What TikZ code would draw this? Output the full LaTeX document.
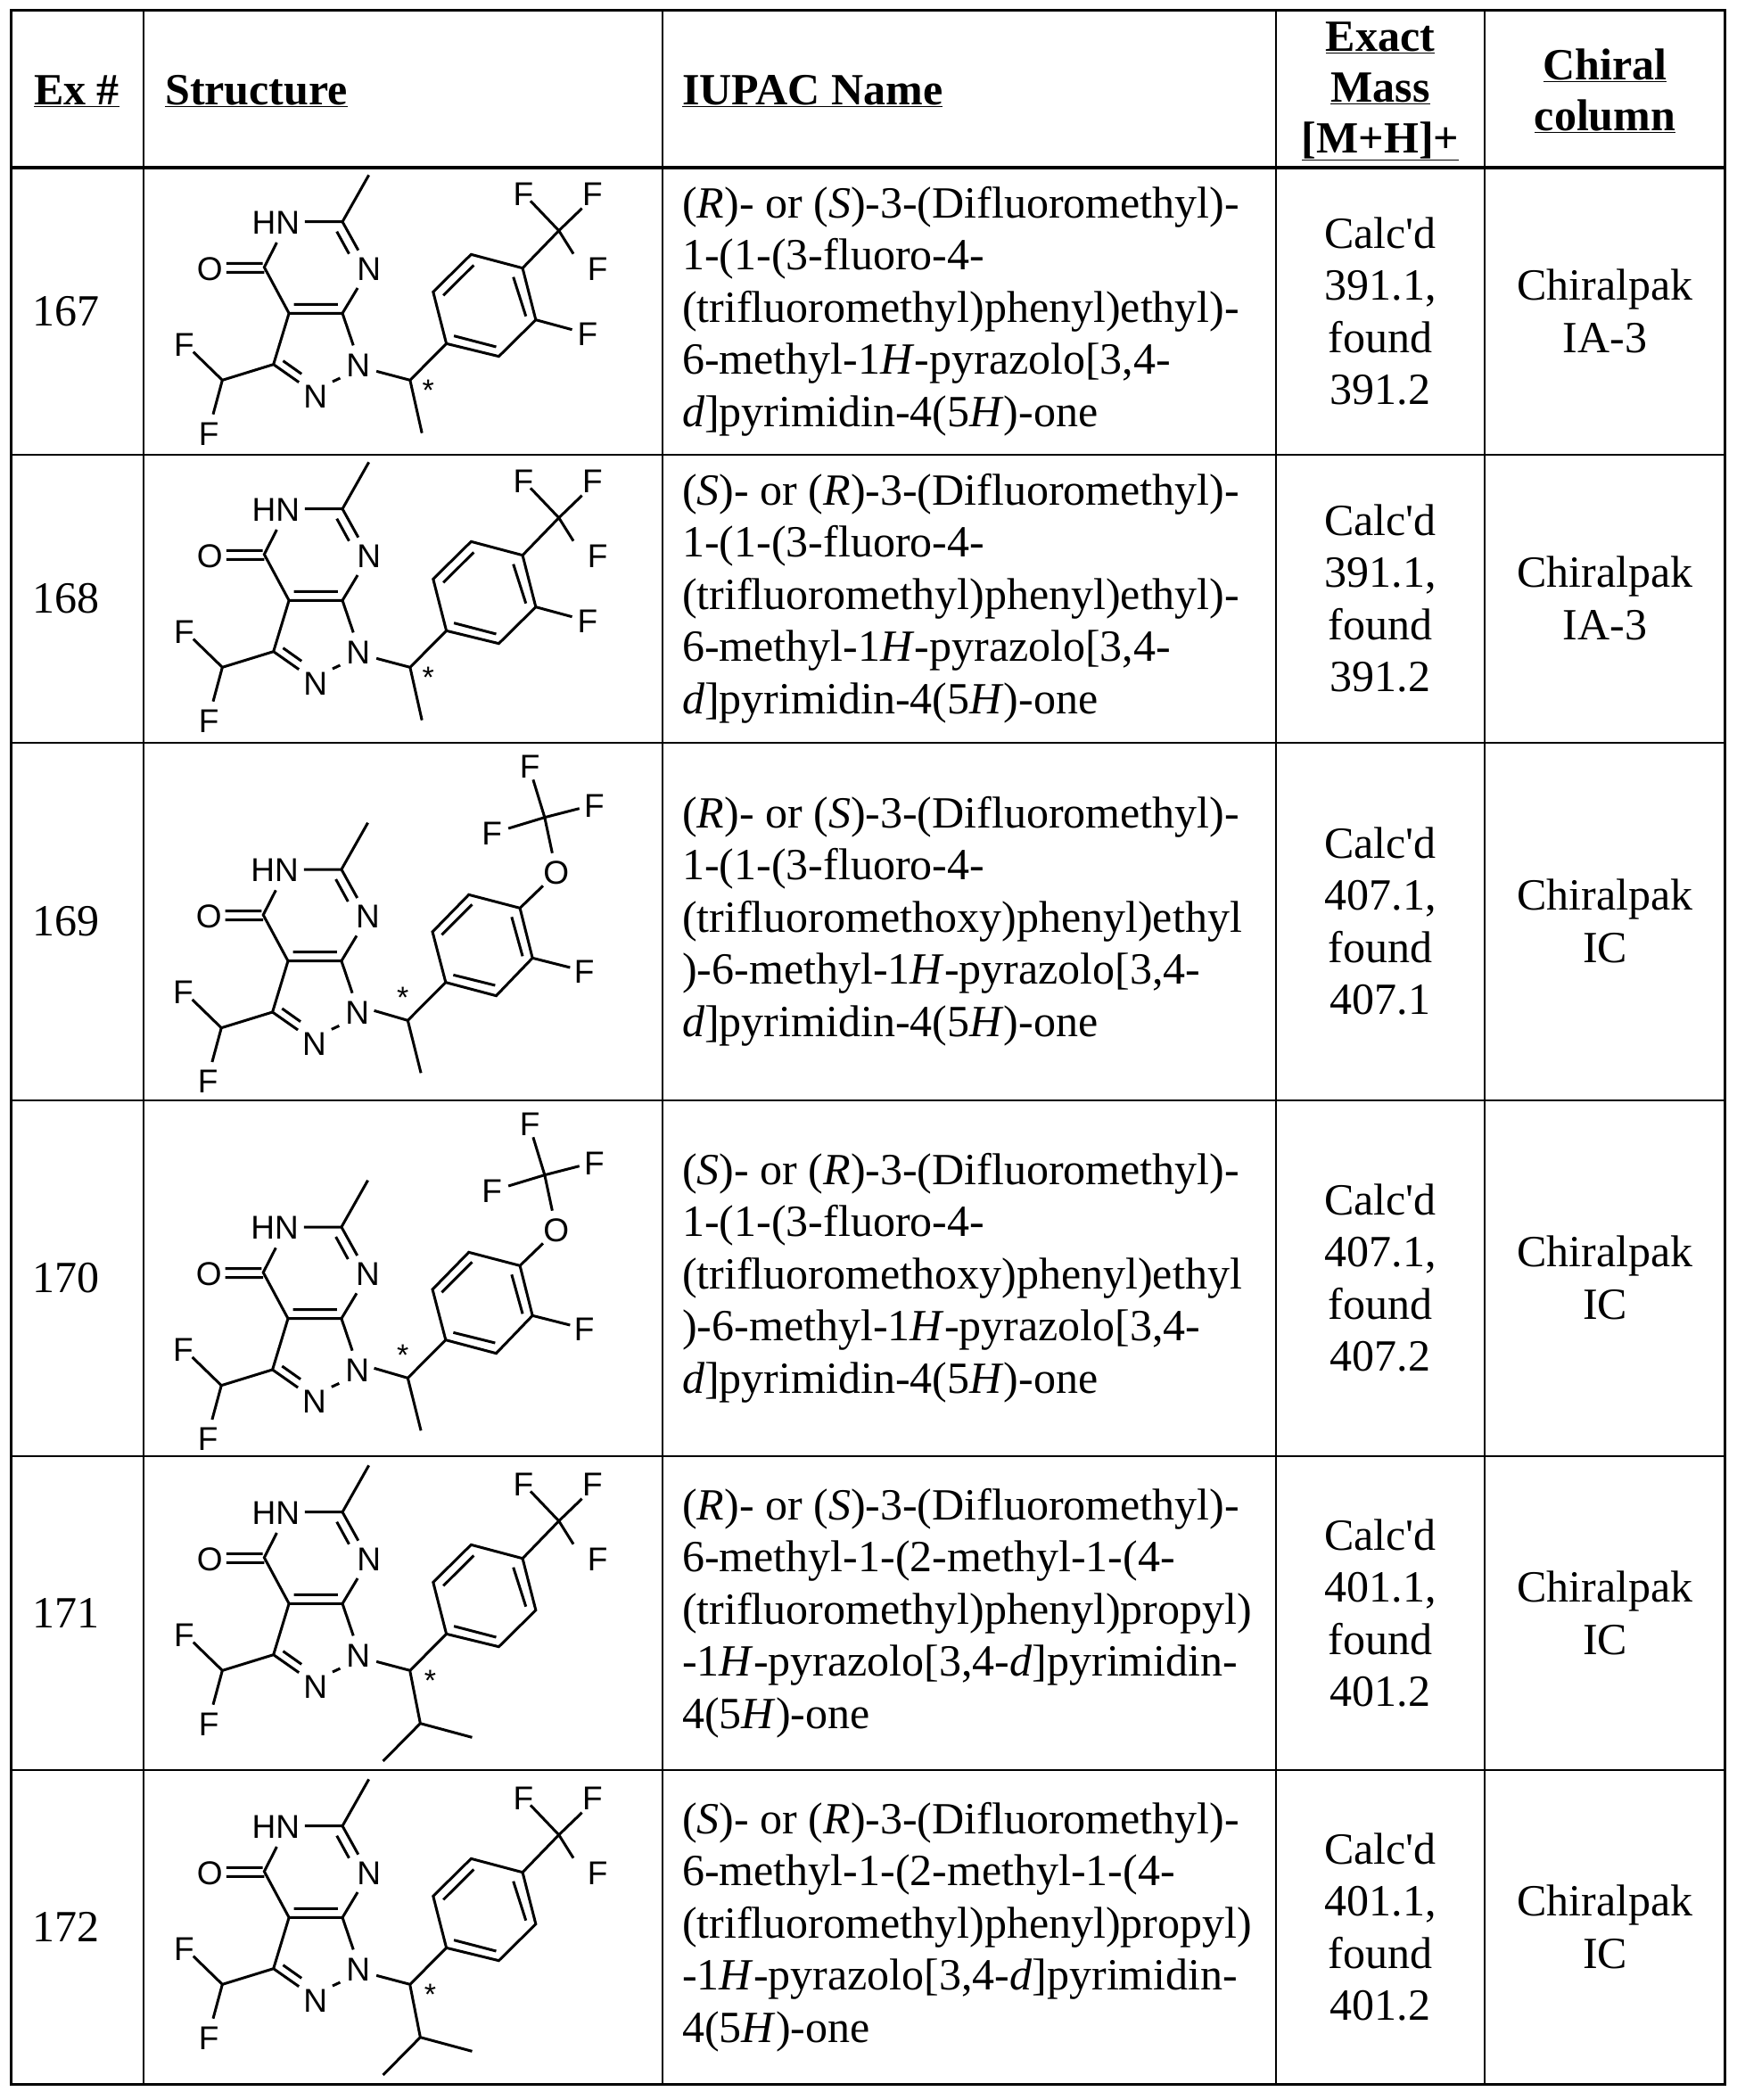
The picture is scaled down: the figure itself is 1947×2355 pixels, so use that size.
\documentclass[tikz,border=0pt]{standalone}
\usepackage{fontspec}
\setmainfont{Liberation Serif}
\newfontfamily\sansf{Liberation Sans}
\newcommand\labfont{\sansf\fontsize{37}{37}\selectfont}
\newcommand\starfont{\sansf\fontsize{34}{34}\selectfont}
\newcommand\txtfont{\fontsize{50}{58.5}\selectfont}
\newcommand\hdfont{\fontsize{50}{57}\selectfont\bfseries}
\tikzset{bond/.style={line width=3pt},
 lab/.style={font=\labfont, inner sep=0pt},
 starlab/.style={font=\starfont, inner sep=0pt},
 gridline/.style={line width=2.5pt},
 cellt/.style={font=\txtfont, align=center, inner sep=0pt},
 iupac/.style={font=\txtfont, align=left, anchor=west, inner sep=0pt},
 headt/.style={font=\hdfont, align=center, inner sep=0pt},
 mol/.style={xscale=0.37,yscale=1/3}}
\newcommand\pyrcore{%
 \draw[bond] (672,25)--(592,182) (478,182)--(592,182)--(640,278) (575,215)--(612,290)
  (638,405)--(592,490)--(430,490)--(355,335)--(393,252) (445,460)--(578,460)
  (240,322)--(350,322) (240,352)--(355,352) (430,490)--(383,662)--(460,722)
  (412,650)--(468,694) (562,720)--(585,708) (592,490)--(625,598)
  (383,662)--(228,715)--(140,620) (228,715)--(200,830);
 \node[lab] (hn) at (390,185) {HN}; \node[lab] (n7) at (672,340) {N};
 \node[lab] (o) at (190,340) {O}; \node[lab] (n1) at (640,665) {N};
 \node[lab] (n2) at (510,770) {N}; \node[lab] (fa) at (112,595) {F};
 \node[lab] (fb) at (187,895) {F};}
\newcommand\phcf{%
 \draw[bond] (907,592)--(867,418)--(982,292)--(1138,338)--(1178,512)--(1066,635)--cycle
  (898,430)--(990,328) (1110,368)--(1148,500) (930,566)--(1058,603)
  (1138,338)--(1248,212) (1248,212)--(1162,112) (1248,212)--(1318,137) (1248,212)--(1292,290)
  (695,685)--(797,715)--(907,592);
 \node[lab] (f1) at (1140,90) {F}; \node[lab] (f2) at (1350,90) {F}; \node[lab] (f3) at (1365,340) {F};}
\newcommand\molA{\pyrcore\phcf
 \draw[bond] (797,715)--(833,893) (1178,512)--(1288,545);
 \node[lab] (f4) at (1335,560) {F}; \node[starlab] (st) at (852,748) {*};}
\newcommand\molC{\pyrcore\phcf
 \draw[bond] (797,718)--(828,893)--(985,940) (828,893)--(715,1020);
 \node[starlab] (st) at (858,748) {*};}
\newcommand\molB{%
 \begin{scope}[shift={(-3,238)}]\pyrcore\end{scope}
 \draw[bond] (688,895)--(790,928)--(830,1105) (790,928)--(905,800)
  (905,800)--(865,630)--(975,505)--(1130,550)--(1168,718)--(1058,845)--cycle
  (893,640)--(985,538) (1105,580)--(1138,712) (928,775)--(1055,810)
  (1130,550)--(1200,475) (1228,365)--(1205,245) (1205,245)--(1170,118)
  (1205,245)--(1310,215) (1205,245)--(1095,282) (1168,718)--(1282,750);
 \node[lab] (oo) at (1240,430) {O}; \node[lab] (g1) at (1160,75) {F};
 \node[lab] (g2) at (1355,205) {F}; \node[lab] (g3) at (1045,300) {F};
 \node[lab] (g4) at (1325,765) {F}; \node[starlab] (st) at (775,850) {*};}
\begin{document}
\begin{tikzpicture}[x=1pt,y=-1pt]
\useasboundingbox (0,0) rectangle (1947,2355);
\draw[gridline,line width=3pt] (12,12) rectangle (1934,2337);
\foreach \xx in {161,743,1431,1665} \draw[gridline] (\xx,12)--(\xx,2337);
\draw[gridline,line width=4pt] (12,188)--(1934,188);
\foreach \yy in {510,833,1234,1633,1985} \draw[gridline] (12,\yy)--(1934,\yy);
\node[headt] (h1) at (86,102) {\underline{Ex \#}};
\node[headt,anchor=west] (h2) at (185,102) {\underline{Structure}};
\node[headt,anchor=west] (h3) at (765,102) {\underline{IUPAC Name}};
\node[headt] (h4) at (1548,102) {\underline{Exact}\\\underline{Mass}\\\underline{[M+H]+}};
\node[headt] (h5) at (1800,102) {\underline{Chiral}\\\underline{column}};
\def\nmA#1#2{(\textit{#1})- or (\textit{#2})-3-(Difluoromethyl)-\\1-(1-(3-fluoro-4-\\(trifluoromethyl)phenyl)ethyl)-\\6-methyl-1\textit{H}-pyrazolo[3,4-\\\textit{d}]pyrimidin-4(5\textit{H})-one}
\def\nmB#1#2{(\textit{#1})- or (\textit{#2})-3-(Difluoromethyl)-\\1-(1-(3-fluoro-4-\\(trifluoromethoxy)phenyl)ethyl\\)-6-methyl-1\textit{H}-pyrazolo[3,4-\\\textit{d}]pyrimidin-4(5\textit{H})-one}
\def\nmC#1#2{(\textit{#1})- or (\textit{#2})-3-(Difluoromethyl)-\\6-methyl-1-(2-methyl-1-(4-\\(trifluoromethyl)phenyl)propyl)\\-1\textit{H}-pyrazolo[3,4-\textit{d}]pyrimidin-\\4(5\textit{H})-one}
\def\ms#1#2{Calc\textquotesingle d\\#1,\\found\\#2}
\node[cellt,anchor=west] (e1) at (36,349) {167};
\begin{scope}[shift={(165,188)},mol]\molA\end{scope}
\node[iupac] (n167) at (765,349) {\nmA{R}{S}};
\node[cellt] (m1) at (1548,349) {\ms{391.1}{391.2}};
\node[cellt] (c1) at (1800,349) {Chiralpak\\IA-3};
\node[cellt,anchor=west] (e2) at (36,671) {168};
\begin{scope}[shift={(165,510)},mol]\molA\end{scope}
\node[iupac] (n168) at (765,671) {\nmA{S}{R}};
\node[cellt] (m2) at (1548,671) {\ms{391.1}{391.2}};
\node[cellt] (c2) at (1800,671) {Chiralpak\\IA-3};
\node[cellt,anchor=west] (e3) at (36,1033) {169};
\begin{scope}[shift={(165,835)},mol]\molB\end{scope}
\node[iupac] (n169) at (765,1033) {\nmB{R}{S}};
\node[cellt] (m3) at (1548,1033) {\ms{407.1}{407.1}};
\node[cellt] (c3) at (1800,1033) {Chiralpak\\IC};
\node[cellt,anchor=west] (e4) at (36,1433) {170};
\begin{scope}[shift={(165,1236)},mol]\molB\end{scope}
\node[iupac] (n170) at (765,1433) {\nmB{S}{R}};
\node[cellt] (m4) at (1548,1433) {\ms{407.1}{407.2}};
\node[cellt] (c4) at (1800,1433) {Chiralpak\\IC};
\node[cellt,anchor=west] (e5) at (36,1809) {171};
\begin{scope}[shift={(165,1635)},mol]\molC\end{scope}
\node[iupac] (n171) at (765,1809) {\nmC{R}{S}};
\node[cellt] (m5) at (1548,1809) {\ms{401.1}{401.2}};
\node[cellt] (c5) at (1800,1809) {Chiralpak\\IC};
\node[cellt,anchor=west] (e6) at (36,2161) {172};
\begin{scope}[shift={(165,1987)},mol]\molC\end{scope}
\node[iupac] (n172) at (765,2161) {\nmC{S}{R}};
\node[cellt] (m6) at (1548,2161) {\ms{401.1}{401.2}};
\node[cellt] (c6) at (1800,2161) {Chiralpak\\IC};
\end{tikzpicture}
\end{document}
